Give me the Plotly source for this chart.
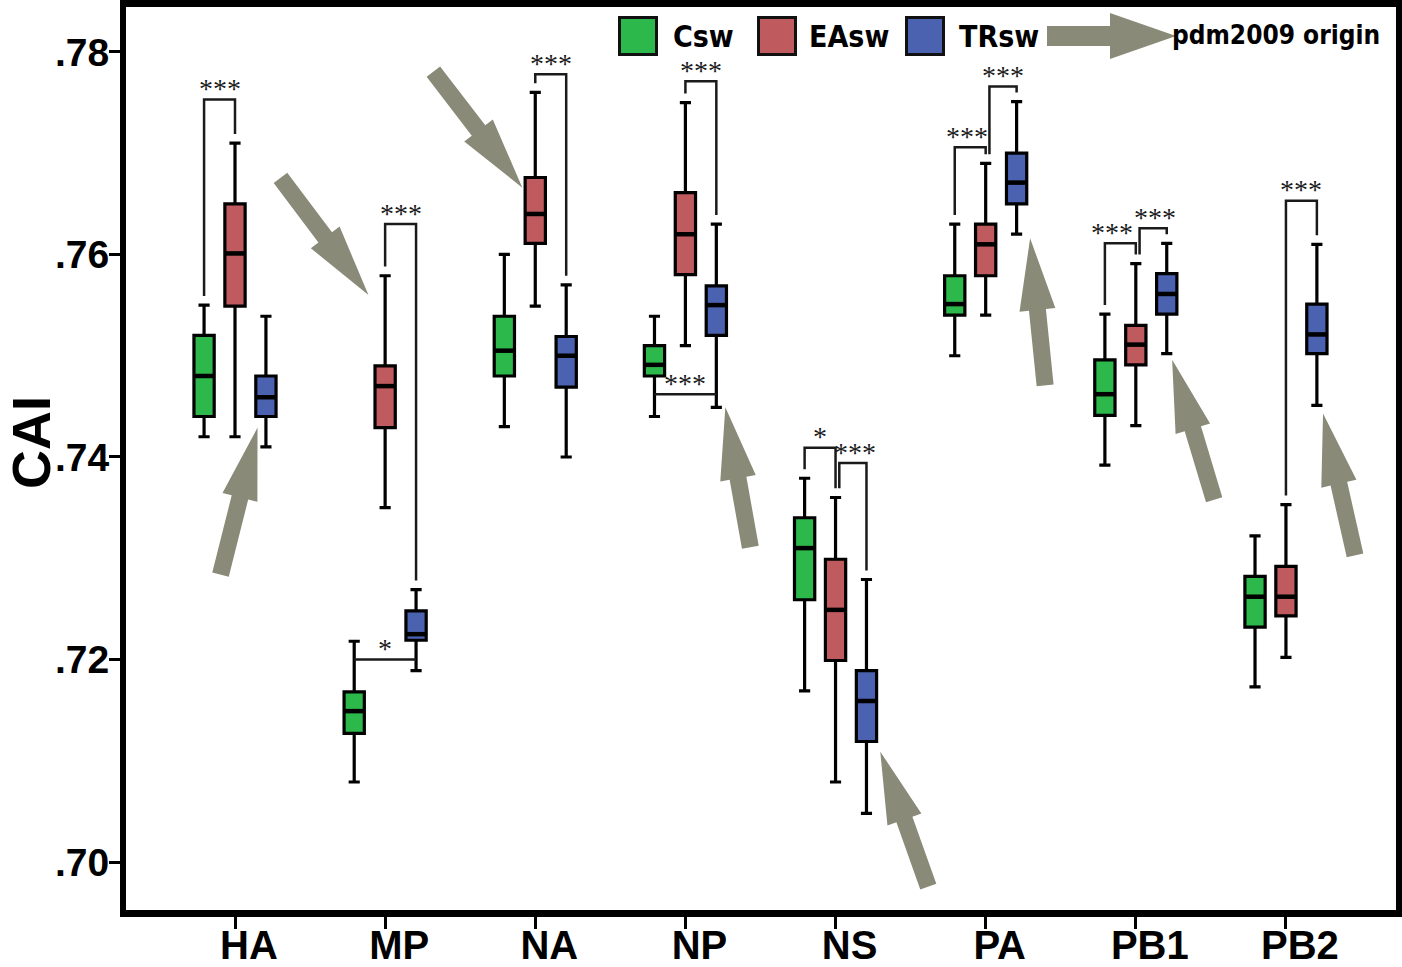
import math
import plotly.graph_objects as go

# ---------------- data ----------------
categories = ['HA', 'MP', 'NA', 'NP', 'NS', 'PA', 'PB1', 'PB2']
series_names = ['Csw', 'EAsw', 'TRsw']

csw_lower = [0.7420, 0.7079, 0.7430, 0.7440, 0.7169, 0.7500, 0.7392, 0.7173]
csw_q1 = [0.7440, 0.7127, 0.7480, 0.7480, 0.7259, 0.7540, 0.7441, 0.7232]
csw_median = [0.7480, 0.7149, 0.7505, 0.7491, 0.7310, 0.7551, 0.7462, 0.7262]
csw_q3 = [0.7520, 0.7168, 0.7539, 0.7510, 0.7340, 0.7579, 0.7496, 0.7282]
csw_upper = [0.7550, 0.7218, 0.7600, 0.7539, 0.7379, 0.7630, 0.7541, 0.7322]

easw_lower = [0.7420, 0.7350, 0.7549, 0.7510, 0.7079, 0.7540, 0.7431, 0.7202]
easw_q1 = [0.7549, 0.7429, 0.7611, 0.7580, 0.7199, 0.7579, 0.7491, 0.7243]
easw_median = [0.7601, 0.7470, 0.7640, 0.7620, 0.7249, 0.7610, 0.7511, 0.7262]
easw_q3 = [0.7650, 0.7490, 0.7676, 0.7661, 0.7299, 0.7630, 0.7530, 0.7292]
easw_upper = [0.7710, 0.7579, 0.7760, 0.7750, 0.7360, 0.7690, 0.7591, 0.7353]

trsw_lower = [0.7410, 0.7189, 0.7400, 0.7449, 0.7048, 0.7620, 0.7502, 0.7451]
trsw_q1 = [0.7440, 0.7219, 0.7469, 0.7520, 0.7119, 0.7650, 0.7541, 0.7502]
trsw_median = [0.7459, 0.7225, 0.7500, 0.7550, 0.7159, 0.7671, 0.7561, 0.7521]
trsw_q3 = [0.7480, 0.7248, 0.7519, 0.7569, 0.7189, 0.7700, 0.7581, 0.7551]
trsw_upper = [0.7539, 0.7269, 0.7570, 0.7630, 0.7279, 0.7751, 0.7611, 0.7610]

ytick_vals = [0.70, 0.72, 0.74, 0.76, 0.78]
ytick_text = ['.70', '.72', '.74', '.76', '.78']
y_title = 'CAI'

# significance brackets: category, left series, right series, level, label, kind
sig_cat = [0, 1, 1, 2, 3, 3, 4, 4, 5, 5, 6, 6, 7]
sig_left = [0, 1, 0, 1, 1, 0, 0, 1, 0, 1, 0, 1, 1]
sig_right = [1, 2, 2, 2, 2, 2, 1, 2, 1, 2, 1, 2, 2]
sig_level = [0.7753, 0.7630, 0.7200, 0.7778, 0.7771, 0.7462, 0.7409, 0.7394,
             0.7706, 0.7766, 0.7611, 0.7626, 0.7653]
sig_label = ['***', '***', '*', '***', '***', '***', '*', '***',
             '***', '***', '***', '***', '***']
sig_kind = ['b', 'b', 'flat', 'b', 'b', 'flat', 'b', 'b2', 'b', 'b2', 'b', 'b2', 'b']
sig_label_shift = [0, 0, 0, 0, 0, 0, 0, 2, -3, 0, -8, 2, 0]

# "pdm2009 origin" arrows: tip position (x in category units, y value), tail offset in px
arrow_tip_x = [0.150, 0.889, 1.914, 3.266, 4.298, 5.296, 6.242, 7.247]
arrow_tip_y = [0.7429, 0.7560, 0.7666, 0.7449, 0.7109, 0.7616, 0.7496, 0.7443]
arrow_tail_dx = [-37, -88, -89, 25, 48, 15, 42, 32]
arrow_tail_dy = [147, -117, -116, 140, 135, 147, 140, 142]

# ---------------- layout constants ----------------
W, H = 1402, 967
ML, MR, MT, MB = 126, 6, 7, 57
XR = [-0.726, 7.733]
YR = [0.69526, 0.78444]
PW = W - ML - MR
PH = H - MT - MB
PX_X = PW / (XR[1] - XR[0])
PX_Y = PH / (YR[1] - YR[0])

offsets = [-0.206, 0.0, 0.206]
BOX_W = 0.135
colors = ['#2db84b', '#bf5a5e', '#4b62b0']
arrow_color = '#8a8a78'
BOLD_FONT = 'Liberation Sans, Arial, sans-serif'
NARROW_FONT = 'DejaVu Sans Condensed, Liberation Sans Narrow, sans-serif'

stats = [
    (csw_lower, csw_q1, csw_median, csw_q3, csw_upper),
    (easw_lower, easw_q1, easw_median, easw_q3, easw_upper),
    (trsw_lower, trsw_q1, trsw_median, trsw_q3, trsw_upper),
]

fig = go.Figure()
for s in range(3):
    lo, q1, md, q3, up = stats[s]
    pos = [i + offsets[s] for i in range(len(categories))]
    fig.add_trace(go.Box(
        x=pos, lowerfence=lo, q1=q1, median=md, q3=q3, upperfence=up,
        orientation='v', width=BOX_W, whiskerwidth=0.55,
        fillcolor=colors[s], line=dict(color='black', width=3.2),
        boxpoints=False, name=series_names[s], showlegend=False,
    ))
    # thicker median bars
    mx, my = [], []
    for p, m in zip(pos, md):
        mx += [p - BOX_W / 2, p + BOX_W / 2, None]
        my += [m, m, None]
    fig.add_trace(go.Scatter(x=mx, y=my, mode='lines', line=dict(color='black', width=4.5),
                             showlegend=False, hoverinfo='skip'))

shapes = []
annotations = []

# brackets
GAP = 0.0009
for c, l, r, lev, lab, kind, lsh in zip(sig_cat, sig_left, sig_right, sig_level,
                                         sig_label, sig_kind, sig_label_shift):
    xl = c + offsets[l]
    xr = c + offsets[r]
    if kind == 'flat':
        path = f'M{xl},{lev} L{xr},{lev}'
    else:
        if kind == 'b2':
            xl += 0.025
        yl = stats[l][4][c] + GAP
        yr = stats[r][4][c] + GAP
        path = f'M{xl},{yl} L{xl},{lev} L{xr},{lev} L{xr},{yr}'
    shapes.append(dict(type='path', path=path, xref='x', yref='y',
                       line=dict(color='#1a1a1a', width=2.5)))
    annotations.append(dict(x=(xl + xr) / 2, y=lev, xref='x', yref='y',
                            text=lab, showarrow=False,
                            yanchor='middle', yshift=11, xshift=lsh,
                            font=dict(family='Liberation Serif, Times New Roman, serif',
                                      size=28, color='#1a1a1a')))


def arrow_path_px(tx, ty, sx, sy, shaft=17, head=36, headlen=72):
    """polygon in pixel space (tip tx,ty; tail sx,sy)"""
    dx, dy = tx - sx, ty - sy
    L = math.hypot(dx, dy)
    ux, uy = dx / L, dy / L
    nx, ny = -uy, ux
    bx, by = tx - ux * headlen, ty - uy * headlen
    pts = [
        (sx + nx * shaft / 2, sy + ny * shaft / 2),
        (bx + nx * shaft / 2, by + ny * shaft / 2),
        (bx + nx * head / 2, by + ny * head / 2),
        (tx, ty),
        (bx - nx * head / 2, by - ny * head / 2),
        (bx - nx * shaft / 2, by - ny * shaft / 2),
        (sx - nx * shaft / 2, sy - ny * shaft / 2),
    ]
    return pts


# arrows in the plot (data coordinates)
for tx, ty, adx, ady in zip(arrow_tip_x, arrow_tip_y, arrow_tail_dx, arrow_tail_dy):
    pts = arrow_path_px(0, 0, adx, ady)
    dpts = [(tx + px / PX_X, ty - py / PX_Y) for px, py in pts]
    path = 'M' + ' L'.join(f'{a},{b}' for a, b in dpts) + ' Z'
    shapes.append(dict(type='path', path=path, xref='x', yref='y',
                       fillcolor=arrow_color, line=dict(width=0), layer='above'))


def to_paper(px, py):
    return (px - ML) / PW, (H - MB - py) / PH


# legend (drawn manually)
leg_sq_cx = [638, 777, 925]
leg_txt_x = [671, 807, 957]
LEG_Y = 36
SQ = 37
for s in range(3):
    x0, y0 = to_paper(leg_sq_cx[s] - SQ / 2, LEG_Y + SQ / 2)
    x1, y1 = to_paper(leg_sq_cx[s] + SQ / 2, LEG_Y - SQ / 2)
    shapes.append(dict(type='rect', xref='paper', yref='paper', x0=x0, y0=y0, x1=x1, y1=y1,
                       fillcolor=colors[s], line=dict(color='#111111', width=3)))
    tx, ty = to_paper(leg_txt_x[s], LEG_Y)
    annotations.append(dict(x=tx, y=ty, xref='paper', yref='paper', text=series_names[s],
                            showarrow=False, xanchor='left', yanchor='middle',
                            font=dict(family=NARROW_FONT, size=30, color='black', weight='bold')))

lpts = arrow_path_px(1176, LEG_Y, 1047, LEG_Y, shaft=20, head=46, headlen=66)
ppts = [to_paper(a, b) for a, b in lpts]
shapes.append(dict(type='path', xref='paper', yref='paper',
                   path='M' + ' L'.join(f'{a},{b}' for a, b in ppts) + ' Z',
                   fillcolor=arrow_color, line=dict(width=0)))
tx, ty = to_paper(1382, LEG_Y - 1)
annotations.append(dict(x=tx, y=ty, xref='paper', yref='paper', text='pdm2009 origin',
                        showarrow=False, xanchor='right', yanchor='middle',
                        font=dict(family=NARROW_FONT, size=26, color='black', weight='bold')))

# y-axis title
tx, ty = to_paper(31, 442)
annotations.append(dict(x=tx, y=ty, xref='paper', yref='paper', text=y_title,
                        showarrow=False, textangle=-90, xanchor='center', yanchor='middle',
                        font=dict(family=BOLD_FONT, size=54, color='black', weight='bold')))

fig.update_layout(
    width=W, height=H,
    margin=dict(l=ML, r=MR, t=MT, b=MB, pad=0),
    paper_bgcolor='white', plot_bgcolor='white',
    boxmode='overlay', showlegend=False,
    shapes=shapes, annotations=annotations,
    xaxis=dict(range=XR, tickmode='array', tickvals=list(range(len(categories))),
               ticktext=categories, ticks='outside', ticklen=12, tickwidth=3,
               tickcolor='black', showline=True, linewidth=7, linecolor='black',
               mirror=True, showgrid=False, zeroline=False, ticklabelshift=14,
               ticklabelstandoff=-18, automargin=False,
               tickfont=dict(family=BOLD_FONT, size=40, color='black', weight='bold')),
    yaxis=dict(range=YR, tickmode='array', tickvals=ytick_vals, ticktext=ytick_text,
               ticks='outside', ticklen=11, tickwidth=3, tickcolor='black',
               showline=True, linewidth=6, linecolor='black', mirror=True,
               showgrid=False, zeroline=False, automargin=False, ticklabelstandoff=-8,
               tickfont=dict(family=BOLD_FONT, size=39, color='black', weight='bold')),
)

fig.write_html('out.html', config={'displayModeBar': False},
               post_script="document.body.style.margin='0px';document.body.style.overflow='hidden';")
